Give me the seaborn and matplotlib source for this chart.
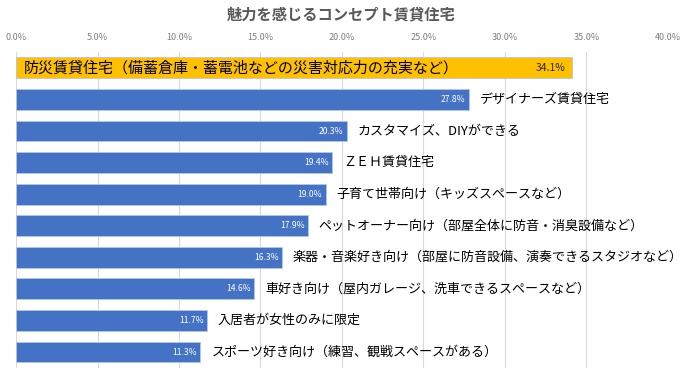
import pandas as pd
import seaborn as sns
import matplotlib.pyplot as plt
from matplotlib.ticker import PercentFormatter

categories = [
    "防災賃貸住宅（備蓄倉庫・蓄電池などの災害対応力の充実など）",
    "デザイナーズ賃貸住宅",
    "カスタマイズ、DIYができる",
    "ＺＥＨ賃貸住宅",
    "子育て世帯向け（キッズスペースなど）",
    "ペットオーナー向け（部屋全体に防音・消臭設備など）",
    "楽器・音楽好き向け（部屋に防音設備、演奏できるスタジオなど）",
    "車好き向け（屋内ガレージ、洗車できるスペースなど）",
    "入居者が女性のみに限定",
    "スポーツ好き向け（練習、観戦スペースがある）",
]
values = [34.1, 27.8, 20.3, 19.4, 19.0, 17.9, 16.3, 14.6, 11.7, 11.3]
highlight = [True] + [False] * 9

df = pd.DataFrame({"concept": categories, "pct": values, "highlight": highlight})

sns.set_theme(style="white")
plt.rcParams["font.family"] = ["Noto Sans CJK JP", "DejaVu Sans"]

fig = plt.figure(figsize=(7, 3.8), dpi=100)
ax = fig.add_axes([0.023, 0.032, 0.931, 0.831])

sns.barplot(data=df, y="concept", x="pct", hue="highlight", orient="h",
            palette={True: "#FFC000", False: "#4472C4"}, dodge=False, saturation=1,
            width=0.66, edgecolor="#B4C7E7", linewidth=0.6, legend=False, ax=ax)

ax.set_xlim(0, 40)
ax.set_xticks(range(0, 41, 5))
ax.xaxis.set_major_formatter(PercentFormatter(decimals=1))
ax.xaxis.tick_top()
ax.tick_params(axis="x", length=0, labelsize=6.5, labelcolor="#7F7F7F", pad=7)
ax.set_yticks([])
ax.set(xlabel=None, ylabel=None)
ax.grid(axis="x", color="#D9D9D9", linewidth=0.8)
ax.set_axisbelow(True)
sns.despine(ax=ax, left=True, bottom=True, top=True, right=True)

for i, (cat, val, hl) in enumerate(zip(categories, values, highlight)):
    if hl:
        ax.text(0.5, i, cat, va="center", ha="left", fontsize=10.8, color="black")
        ax.text(val - 0.4, i, f"{val:.1f}%", va="center", ha="right", fontsize=7.5, color="#262626")
    else:
        ax.text(val - 0.2, i, f"{val:.1f}%", va="center", ha="right", fontsize=6.2, color="white")
        ax.annotate(cat, (val, i), xytext=(8, 0), textcoords="offset points",
                    va="center", ha="left", fontsize=9.4, color="black")

fig.text(0.487, 0.963, "魅力を感じるコンセプト賃貸住宅", ha="center", va="center",
         fontsize=11, fontweight="bold", color="#595959")

fig.savefig("out.png", dpi=100)
